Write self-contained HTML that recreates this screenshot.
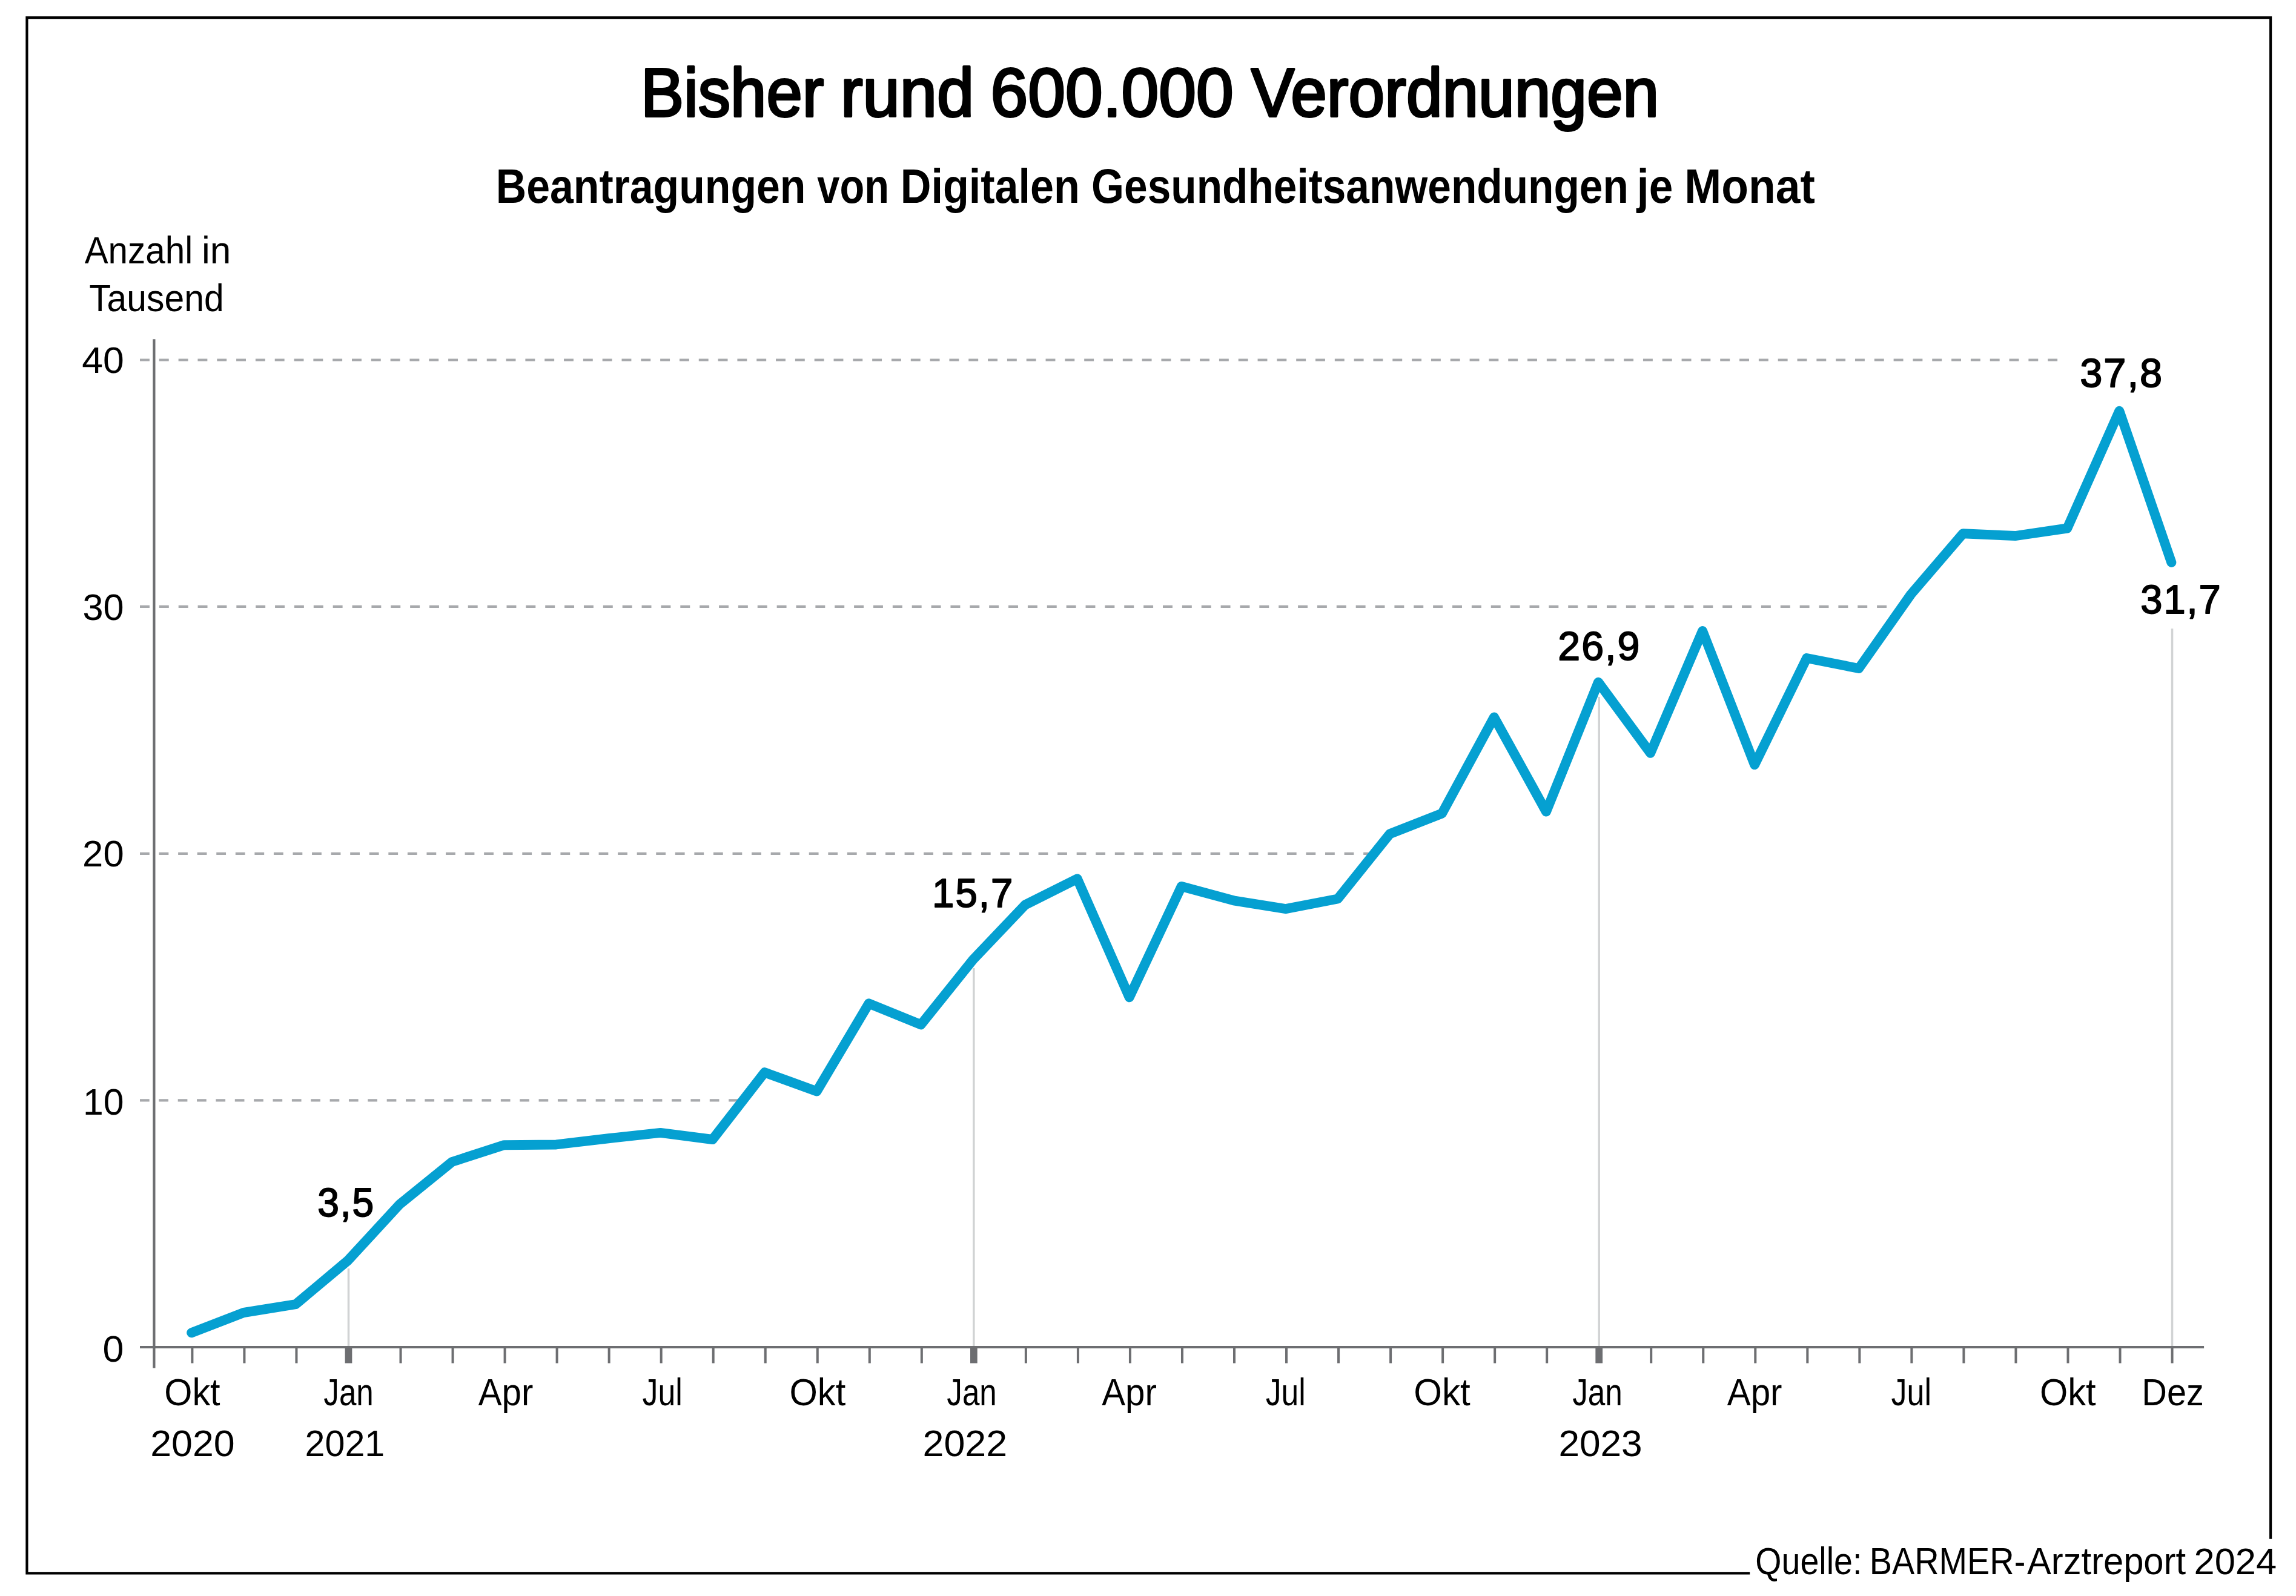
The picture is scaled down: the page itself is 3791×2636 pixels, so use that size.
<!DOCTYPE html>
<html lang="de"><head><meta charset="utf-8"><title>Bisher rund 600.000 Verordnungen</title>
<style>html,body{margin:0;padding:0;background:#fff}body{width:3791px;height:2636px;overflow:hidden}svg{display:block}text{white-space:pre}</style></head>
<body>
<svg width="3791" height="2636" viewBox="0 0 3791 2636" font-family='"Liberation Sans", sans-serif'>
<rect width="3791" height="2636" fill="#fff"/>
<path d="M2889.2 2598.3H44.45V29.05H3749.1V2541.8" fill="none" stroke="#000" stroke-width="4.2" stroke-linejoin="miter"/>
<path d="M231 1817.4H1218.8" fill="none" stroke="#a7a9ac" stroke-width="4.2" stroke-dasharray="15.68 15.68"/>
<path d="M231 1409.8H2266.9" fill="none" stroke="#a7a9ac" stroke-width="4.2" stroke-dasharray="15.7825 15.7825"/>
<path d="M231 1001.9H3115.1" fill="none" stroke="#a7a9ac" stroke-width="4.2" stroke-dasharray="15.934 15.934"/>
<path d="M231 594.5H3397.1" fill="none" stroke="#a7a9ac" stroke-width="4.2" stroke-dasharray="15.91 15.91"/>
<path d="M575.49 2095.0V2225.1" fill="none" stroke="#d1d3d4" stroke-width="3.5"/>
<path d="M1607.85 1599.0V2225.1" fill="none" stroke="#d1d3d4" stroke-width="3.5"/>
<path d="M2640.21 1151.0V2225.1" fill="none" stroke="#d1d3d4" stroke-width="3.5"/>
<path d="M3586.54 1038.3V2225.1" fill="none" stroke="#d1d3d4" stroke-width="3.5"/>
<path d="M231 2225.1H3639.1" fill="none" stroke="#6d6e71" stroke-width="4"/>
<path d="M254.4 560.2V2259.6" fill="none" stroke="#6d6e71" stroke-width="4.2"/>
<path d="M317.40 2225.1V2251.5M403.43 2225.1V2251.5M489.46 2225.1V2251.5M661.52 2225.1V2251.5M747.55 2225.1V2251.5M833.58 2225.1V2251.5M919.61 2225.1V2251.5M1005.64 2225.1V2251.5M1091.67 2225.1V2251.5M1177.70 2225.1V2251.5M1263.73 2225.1V2251.5M1349.76 2225.1V2251.5M1435.79 2225.1V2251.5M1521.82 2225.1V2251.5M1693.88 2225.1V2251.5M1779.91 2225.1V2251.5M1865.94 2225.1V2251.5M1951.97 2225.1V2251.5M2038.00 2225.1V2251.5M2124.03 2225.1V2251.5M2210.06 2225.1V2251.5M2296.09 2225.1V2251.5M2382.12 2225.1V2251.5M2468.15 2225.1V2251.5M2554.18 2225.1V2251.5M2726.24 2225.1V2251.5M2812.27 2225.1V2251.5M2898.30 2225.1V2251.5M2984.33 2225.1V2251.5M3070.36 2225.1V2251.5M3156.39 2225.1V2251.5M3242.42 2225.1V2251.5M3328.45 2225.1V2251.5M3414.48 2225.1V2251.5M3500.51 2225.1V2251.5M3586.54 2225.1V2251.5" fill="none" stroke="#6d6e71" stroke-width="4"/>
<path d="M575.49 2225.1V2251.5M1607.85 2225.1V2251.5M2640.21 2225.1V2251.5" fill="none" stroke="#6d6e71" stroke-width="11.7"/>
<polyline points="316.20,2201.2 402.23,2168.0 488.26,2154.2 574.29,2082.0 660.32,1988.7 746.35,1919.0 832.38,1891.2 918.41,1890.4 1004.44,1880.3 1090.47,1870.9 1176.50,1882.0 1262.53,1771.2 1348.56,1802.4 1434.59,1657.3 1520.62,1692.3 1606.65,1585.0 1692.68,1494.5 1778.71,1451.4 1864.74,1647.2 1950.77,1464.0 2036.80,1487.3 2122.83,1501.2 2208.86,1484.5 2294.89,1377.2 2380.92,1343.5 2466.95,1184.6 2552.98,1340.6 2639.01,1126.8 2725.04,1243.8 2811.07,1042.1 2897.10,1263.1 2983.13,1087.0 3069.16,1104.0 3155.19,981.6 3241.22,881.3 3327.25,885.1 3413.28,872.5 3499.31,678.8 3585.34,928.9" fill="none" stroke="#05a0d1" stroke-width="16" stroke-linejoin="round" stroke-linecap="round"/>
<text transform="translate(1058.00 192.30) scale(0.9386 1)" font-size="113.60" fill="#000" stroke="#000" stroke-width="3.8" stroke-linejoin="round">Bisher</text>
<text transform="translate(1387.97 192.30) scale(0.9688 1)" font-size="113.60" fill="#000" stroke="#000" stroke-width="3.8" stroke-linejoin="round">rund</text>
<text transform="translate(1635.55 192.30) scale(0.9769 1)" font-size="113.60" fill="#000" stroke="#000" stroke-width="3.8" stroke-linejoin="round">600.000</text>
<text transform="translate(2065.66 192.30) scale(0.9438 1)" font-size="113.60" fill="#000" stroke="#000" stroke-width="3.8" stroke-linejoin="round">Verordnungen</text>
<text transform="translate(818.79 335.30) scale(0.8818 1)" font-size="79.13" font-weight="700" fill="#000">Beantragungen</text>
<text transform="translate(1349.37 335.30) scale(0.8435 1)" font-size="79.13" font-weight="700" fill="#000">von</text>
<text transform="translate(1486.77 335.30) scale(0.8863 1)" font-size="79.13" font-weight="700" fill="#000">Digitalen</text>
<text transform="translate(1802.12 335.30) scale(0.8771 1)" font-size="79.13" font-weight="700" fill="#000">Gesundheitsanwendungen</text>
<text transform="translate(2702.87 335.30) scale(0.8994 1)" font-size="79.13" font-weight="700" fill="#000">je</text>
<text transform="translate(2781.36 335.30) scale(0.9249 1)" font-size="79.13" font-weight="700" fill="#000">Monat</text>
<text transform="translate(139.65 435.20) scale(0.9210 1)" font-size="63.42" fill="#000">Anzahl</text>
<text transform="translate(333.00 435.20) scale(0.9803 1)" font-size="63.42" fill="#000">in</text>
<text transform="translate(147.18 514.10) scale(0.9282 1)" font-size="63.42" fill="#000">Tausend</text>
<text transform="translate(135.29 616.00) scale(1.0318 1)" font-size="60.65" fill="#000">40</text>
<text transform="translate(136.50 1024.00) scale(1.0101 1)" font-size="60.65" fill="#000">30</text>
<text transform="translate(136.12 1431.10) scale(1.0160 1)" font-size="60.65" fill="#000">20</text>
<text transform="translate(137.04 1841.00) scale(1.0018 1)" font-size="60.65" fill="#000">10</text>
<text transform="translate(169.39 2248.70) scale(1.0360 1)" font-size="60.65" fill="#000">0</text>
<text transform="translate(271.18 2321.00) scale(0.9366 1)" font-size="63.42" fill="#000">Okt</text>
<text transform="translate(534.33 2321.00) scale(0.8070 1)" font-size="63.42" fill="#000">Jan</text>
<text transform="translate(789.75 2321.00) scale(0.9179 1)" font-size="63.42" fill="#000">Apr</text>
<text transform="translate(1060.52 2321.00) scale(0.8181 1)" font-size="63.42" fill="#000">Jul</text>
<text transform="translate(1303.47 2321.00) scale(0.9408 1)" font-size="63.42" fill="#000">Okt</text>
<text transform="translate(1563.33 2321.00) scale(0.8070 1)" font-size="63.42" fill="#000">Jan</text>
<text transform="translate(1819.15 2321.00) scale(0.9189 1)" font-size="63.42" fill="#000">Apr</text>
<text transform="translate(2089.63 2321.00) scale(0.8141 1)" font-size="63.42" fill="#000">Jul</text>
<text transform="translate(2334.24 2321.00) scale(0.9482 1)" font-size="63.42" fill="#000">Okt</text>
<text transform="translate(2596.13 2321.00) scale(0.8090 1)" font-size="63.42" fill="#000">Jan</text>
<text transform="translate(2851.75 2321.00) scale(0.9199 1)" font-size="63.42" fill="#000">Apr</text>
<text transform="translate(3122.52 2321.00) scale(0.8207 1)" font-size="63.42" fill="#000">Jul</text>
<text transform="translate(3367.97 2321.00) scale(0.9387 1)" font-size="63.42" fill="#000">Okt</text>
<text transform="translate(3536.34 2321.00) scale(0.9097 1)" font-size="63.42" fill="#000">Dez</text>
<text transform="translate(248.27 2405.10) scale(1.0334 1)" font-size="60.65" fill="#000">2020</text>
<text transform="translate(503.54 2405.10) scale(0.9762 1)" font-size="60.65" fill="#000">2021</text>
<text transform="translate(1523.46 2405.10) scale(1.0356 1)" font-size="60.65" fill="#000">2022</text>
<text transform="translate(2573.39 2405.10) scale(1.0250 1)" font-size="60.65" fill="#000">2023</text>
<text transform="translate(524.19 2009.10) scale(0.9699 1)" font-size="66.18" letter-spacing="1.99" fill="#000" stroke="#000" stroke-width="1.8" stroke-linejoin="round">3,5</text>
<text transform="translate(1539.09 1498.10) scale(0.9889 1)" font-size="66.18" letter-spacing="1.99" fill="#000" stroke="#000" stroke-width="1.8" stroke-linejoin="round">15,7</text>
<text transform="translate(2572.28 1090.00) scale(1.0024 1)" font-size="66.18" letter-spacing="1.99" fill="#000" stroke="#000" stroke-width="1.8" stroke-linejoin="round">26,9</text>
<text transform="translate(3434.30 638.50) scale(1.0071 1)" font-size="66.18" letter-spacing="1.99" fill="#000" stroke="#000" stroke-width="1.8" stroke-linejoin="round">37,8</text>
<text transform="translate(3534.36 1013.10) scale(0.9822 1)" font-size="66.18" letter-spacing="1.99" fill="#000" stroke="#000" stroke-width="1.8" stroke-linejoin="round">31,7</text>
<text transform="translate(2898.36 2600.20) scale(0.8758 1)" font-size="63.42" fill="#000">Quelle:</text>
<text transform="translate(3086.79 2600.20) scale(0.8805 1)" font-size="63.42" fill="#000">BARMER-</text>
<text transform="translate(3346.95 2600.20) scale(0.9414 1)" font-size="63.42" fill="#000">Arztreport</text>
<text transform="translate(3622.53 2600.20) scale(1.0117 1)" font-size="60.65" fill="#000">2024</text>
</svg>
</body></html>
